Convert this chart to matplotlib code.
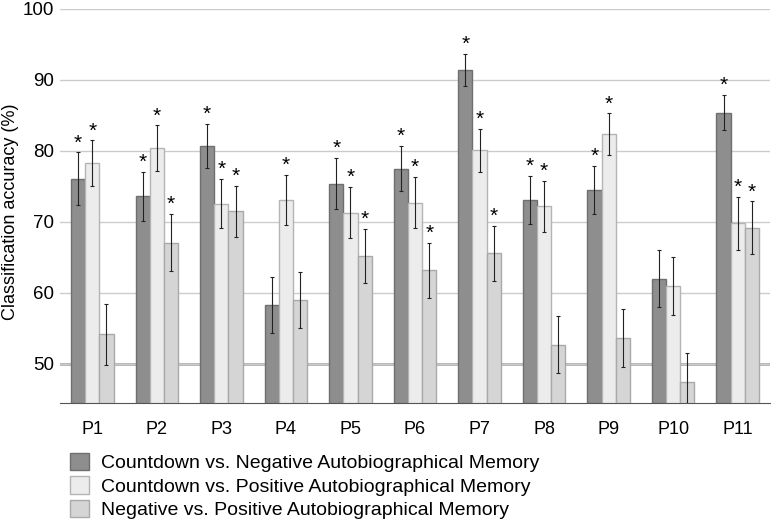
import numpy as np
import matplotlib.pyplot as plt

plt.rcParams['font.family'] = ['Liberation Sans', 'DejaVu Sans']

participants = ["P1", "P2", "P3", "P4", "P5", "P6", "P7", "P8", "P9", "P10", "P11"]
labels = ["Countdown vs. Negative Autobiographical Memory",
          "Countdown vs. Positive Autobiographical Memory",
          "Negative vs. Positive Autobiographical Memory"]

count_neg = [76.1, 73.6, 80.7, 58.3, 75.4, 77.5, 91.4, 73.1, 74.5, 62.0, 85.4]
count_pos = [78.3, 80.4, 72.6, 73.1, 71.3, 72.7, 80.1, 72.2, 82.4, 61.0, 69.8]
neg_pos = [54.2, 67.1, 71.5, 59.0, 65.2, 63.2, 65.6, 52.7, 53.7, 47.5, 69.2]

err_count_neg = [3.7, 3.4, 3.1, 4.0, 3.6, 3.2, 2.3, 3.4, 3.4, 4.0, 2.5]
err_count_pos = [3.2, 3.2, 3.5, 3.5, 3.6, 3.6, 3.0, 3.6, 2.9, 4.1, 3.7]
err_neg_pos = [4.3, 4.0, 3.6, 4.0, 3.8, 3.9, 3.9, 4.0, 4.1, 4.1, 3.7]

sig_count_neg = [1, 1, 1, 0, 1, 1, 1, 1, 1, 0, 1]
sig_count_pos = [1, 1, 1, 1, 1, 1, 1, 1, 1, 0, 1]
sig_neg_pos = [0, 1, 1, 0, 1, 1, 1, 0, 0, 0, 1]

series = [count_neg, count_pos, neg_pos]
errors = [err_count_neg, err_count_pos, err_neg_pos]
sigs = [sig_count_neg, sig_count_pos, sig_neg_pos]
faces = ["#8e8e8e", "#ececec", "#d5d5d5"]
edges = ["#6f6f6f", "#b4b4b4", "#a9a9a9"]

fig = plt.figure(figsize=(7.71, 5.27), dpi=100)
ax = fig.add_axes([60 / 771, 1 - 403 / 527, 710 / 771, 394 / 527])

x = np.arange(len(participants))
w = 0.22
bottom = 44.5
for i in range(3):
    pos = x + (i - 1) * w
    vals = np.array(series[i])
    ax.bar(pos, vals - bottom, w, bottom=bottom, color=faces[i], edgecolor=edges[i],
           linewidth=1, label=labels[i], zorder=3)
    ax.errorbar(pos, vals, yerr=errors[i], fmt="none", ecolor="#222222",
                elinewidth=0.8, capsize=1.5, capthick=0.8, zorder=4)
    for p, v, e, s in zip(pos, vals, errors[i], sigs[i]):
        if s:
            ax.annotate("*", (p, v + e), xytext=(0, 0), textcoords="offset points",
                        ha="center", va="bottom", fontsize=15, zorder=5)

ax.set_ylim(bottom, 100)
ax.set_xlim(-0.5, len(participants) - 0.5)
ax.set_yticks([50, 60, 70, 80, 90, 100])
ax.yaxis.grid(True, color="#cccccc", linewidth=1, zorder=0)
ax.axhline(50, color="#aaaaaa", linewidth=2, zorder=1)
ax.set_xticks(x)
ax.set_xticklabels(participants)
ax.tick_params(axis="both", length=0)
ax.tick_params(axis="x", pad=13, labelsize=13)
ax.tick_params(axis="y", pad=4, labelsize=13.5)
for s in ["left", "right", "top"]:
    ax.spines[s].set_visible(False)
ax.spines["bottom"].set_color("#555555")
ax.set_ylabel("Classification accuracy (%)", fontsize=13)
ax.yaxis.set_label_coords(-41 / 710, 0.485)

fig.legend(loc="upper left", bbox_to_anchor=(70 / 771, 1 - 453 / 527), frameon=False,
           fontsize=14, handlelength=1.0, handleheight=1.0, handletextpad=0.6,
           labelspacing=0.2, borderaxespad=0, borderpad=0)

plt.savefig("out.png", dpi=100)
